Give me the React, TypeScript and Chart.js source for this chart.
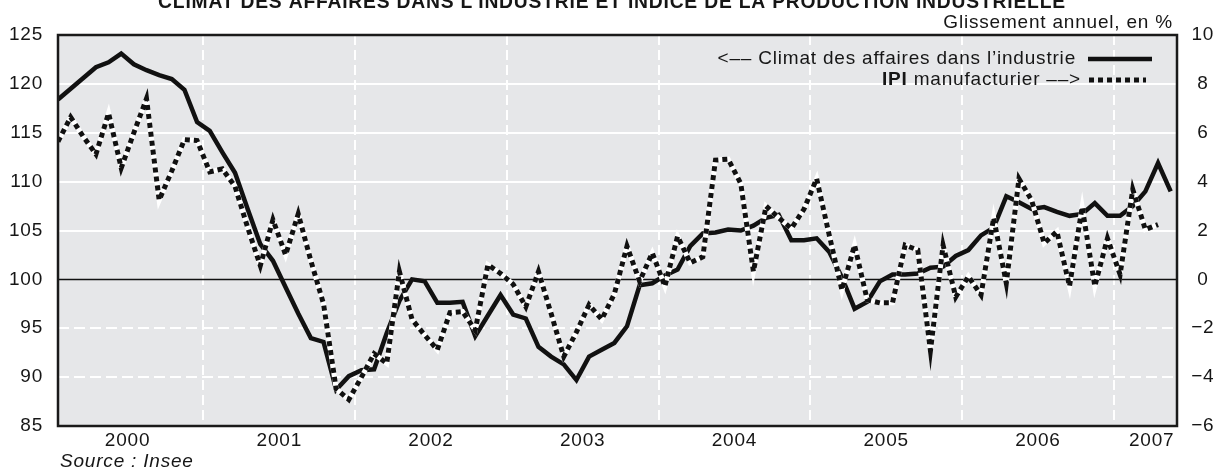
import React, { useEffect, useRef } from 'react';
import { Chart, registerables } from 'chart.js';

Chart.register(...registerables);

// ---- Data (monthly, January 2000 onwards) ----
const yearLabels = ['2000', '2001', '2002', '2003', '2004', '2005', '2006', '2007'];

// Climat des affaires dans l'industrie (left axis, index)
const climatValues = [
  118.4, 119.5, 120.6, 121.7, 122.2, 123.1, 122.0, 121.4, 120.9, 120.5, 119.4, 116.1,
  115.2, 113.0, 110.9, 107.2, 103.6, 101.9, 99.2, 96.5, 94.0, 93.6, 88.7, 90.1,
  90.7, 90.8, 94.5, 97.8, 100.0, 99.8, 97.6, 97.6, 97.7, 94.2, 96.3, 98.4,
  96.4, 96.0, 93.1, 92.1, 91.3, 89.7, 92.1, 92.8, 93.5, 95.2, 99.4, 99.6,
  100.4, 101.0, 103.4, 104.7, 104.8, 105.1, 105.0, 105.5, 106.3, 106.6, 104.0, 104.0,
  104.2, 102.8, 100.2, 97.0, 97.7, 99.8, 100.5, 100.5, 100.6, 101.2, 101.3, 102.4,
  103.0, 104.5, 105.3, 108.5, 107.9, 107.2, 107.4, 106.9, 106.5, 106.7, 107.8, 106.5,
  106.5, 107.5, 109.0, 111.9, 109.0,
];

// IPI manufacturier, glissement annuel en % (right axis)
const ipiValues = [
  5.64, 6.64, 5.84, 5.12, 6.80, 4.56, 6.00, 7.40, 3.24, 4.44, 5.72, 5.68,
  4.40, 4.52, 3.80, 2.12, 0.56, 2.44, 1.00, 2.68, 0.76, -1.00, -4.48, -4.92,
  -4.00, -3.04, -3.44, 0.32, -1.64, -2.28, -2.88, -1.36, -1.32, -2.08, 0.60, 0.24,
  -0.20, -1.12, 0.32, -1.40, -3.16, -2.16, -1.04, -1.64, -0.60, 1.36, -0.08, 1.08,
  -0.28, 1.76, 0.68, 0.92, 4.88, 4.92, 3.92, 0.32, 3.00, 2.52, 2.08, 2.88,
  4.12, 1.80, -0.44, 1.40, -0.84, -0.96, -0.96, 1.40, 1.20, -2.92, 1.40, -0.72,
  0.12, -0.64, 2.52, -0.16, 4.12, 3.24, 1.48, 1.96, -0.28, 2.96, -0.28, 1.68,
  0.20, 3.68, 2.04, 2.24,
];

const titleText = 'CLIMAT DES AFFAIRES DANS L’INDUSTRIE ET INDICE DE LA PRODUCTION INDUSTRIELLE';
const rightAxisTitle = 'Glissement annuel, en %';
const legendClimat = '<–– Climat des affaires dans l’industrie';
const legendIpiBold = 'IPI';
const legendIpiRest = ' manufacturier ––>';
const sourceText = 'Source : Insee';

const FONT = '"Liberation Sans", Arial, Helvetica, sans-serif';
const TEXT = '#161616';
const SIZE = 19;
const SPACING = '0.8px';

const xMax = climatValues.length - 0.5;
const yearBoundaries = yearLabels.slice(1).map((_, k) => (k + 1) * 12 - 0.5);
const yearTickValues = yearLabels.map((_, k) => Math.min(k * 12 + 5.5, xMax - 2));

const decor = {
  id: 'decor',
  beforeDraw(chart: any) {
    const ctx = chart.ctx;
    ctx.letterSpacing = SPACING;
    const { left, right, top, bottom } = chart.chartArea;
    ctx.save();
    ctx.fillStyle = '#e6e7e9';
    ctx.fillRect(left, top, right - left, bottom - top);
    ctx.restore();
  },
  beforeDatasetsDraw(chart: any) {
    const ctx = chart.ctx;
    const { left, right, top, bottom } = chart.chartArea;
    const ys = chart.scales.y;
    const xs = chart.scales.x;
    ctx.save();
    ctx.strokeStyle = '#ffffff';
    ctx.lineWidth = 2;
    ys.ticks.forEach((t: any) => {
      if (t.value <= ys.min || t.value >= ys.max || t.value === 100) return;
      const py = Math.round(ys.getPixelForValue(t.value));
      ctx.setLineDash(t.value > 100 ? [] : [11, 5]);
      ctx.beginPath();
      ctx.moveTo(left, py);
      ctx.lineTo(right, py);
      ctx.stroke();
    });
    ctx.setLineDash([10, 5]);
    yearBoundaries.forEach((v) => {
      const px = Math.round(xs.getPixelForValue(v));
      ctx.beginPath();
      ctx.moveTo(px, top);
      ctx.lineTo(px, bottom);
      ctx.stroke();
    });
    ctx.setLineDash([]);
    ctx.strokeStyle = '#111';
    ctx.lineWidth = 1.5;
    const pz = ys.getPixelForValue(100);
    ctx.beginPath();
    ctx.moveTo(left, pz);
    ctx.lineTo(right, pz);
    ctx.stroke();
    ctx.restore();
  },
  afterDatasetsDraw(chart: any) {
    const ctx = chart.ctx;
    const { left, right, top, bottom } = chart.chartArea;
    ctx.save();
    ctx.strokeStyle = '#1a1a1a';
    ctx.lineWidth = 2.5;
    ctx.strokeRect(left, top, right - left, bottom - top);
    ctx.restore();
  },
  afterDraw(chart: any) {
    const ctx = chart.ctx;
    ctx.save();
    ctx.letterSpacing = SPACING;
    ctx.fillStyle = TEXT;
    ctx.textBaseline = 'alphabetic';

    // title (cut at the top of the picture)
    ctx.font = `bold 19.3px ${FONT}`;
    ctx.textAlign = 'center';
    ctx.fillText(titleText, 612, 8);

    // right axis title
    ctx.font = `${SIZE}px ${FONT}`;
    ctx.textAlign = 'right';
    ctx.fillText(rightAxisTitle, 1173, 28);

    // legend
    ctx.fillText(legendClimat, 1076, 64);
    const restW = ctx.measureText(legendIpiRest).width;
    ctx.fillText(legendIpiRest, 1081, 85);
    ctx.font = `bold ${SIZE}px ${FONT}`;
    ctx.fillText(legendIpiBold, 1081 - restW, 85);

    ctx.strokeStyle = '#111';
    ctx.lineWidth = 4.5;
    ctx.beginPath();
    ctx.moveTo(1088, 59);
    ctx.lineTo(1152, 59);
    ctx.stroke();
    ctx.lineWidth = 5;
    ctx.setLineDash([5, 4]);
    ctx.beginPath();
    ctx.moveTo(1089, 80);
    ctx.lineTo(1146, 80);
    ctx.stroke();
    ctx.setLineDash([]);

    // source
    ctx.font = `italic ${SIZE}px ${FONT}`;
    ctx.textAlign = 'left';
    ctx.fillText(sourceText, 60, 467);
    ctx.restore();
  },
};

export default function App() {
  const ref = useRef<HTMLCanvasElement>(null);
  useEffect(() => {
    const canvas = ref.current!;
    const tickFont = { family: FONT, size: SIZE };
    const ipiPoints = ipiValues.map((v, i) => ({ x: i, y: v }));
    const chart = new Chart(canvas, {
      type: 'line',
      data: {
        datasets: [
          {
            label: 'IPI manufacturier',
            data: ipiPoints,
            yAxisID: 'y1',
            borderColor: '#111',
            borderWidth: 5,
            borderDash: [5, 4],
            borderCapStyle: 'butt',
            pointRadius: 0,
            tension: 0,
            fill: false,
          },
          {
            label: 'IPI fond',
            data: ipiPoints,
            yAxisID: 'y1',
            borderColor: '#ffffff',
            borderWidth: 5,
            pointRadius: 0,
            tension: 0,
            fill: false,
          },
          {
            label: 'Climat des affaires dans l’industrie',
            data: climatValues.map((v, i) => ({ x: i, y: v })),
            yAxisID: 'y',
            borderColor: '#111',
            borderWidth: 4.5,
            pointRadius: 0,
            tension: 0,
            fill: false,
          },
        ],
      },
      options: {
        animation: false,
        responsive: false,
        layout: { padding: { top: 35, left: 0, right: 0, bottom: 0 } },
        plugins: {
          legend: { display: false },
          title: { display: false },
          tooltip: { enabled: false },
        },
        scales: {
          x: {
            type: 'linear',
            min: 0,
            max: xMax,
            grid: { display: false, drawTicks: false },
            border: { display: false },
            afterBuildTicks: (s: any) => {
              s.ticks = yearTickValues.map((v) => ({ value: v }));
            },
            afterFit: (s: any) => {
              s.height = 44;
            },
            ticks: {
              autoSkip: false,
              maxRotation: 0,
              padding: 3,
              color: TEXT,
              font: tickFont,
              callback: (_v: any, i: number) => yearLabels[i],
            },
          },
          y: {
            position: 'left',
            min: 85,
            max: 125,
            grid: { display: false, drawTicks: false },
            border: { display: false },
            afterFit: (s: any) => {
              s.width = 58;
            },
            ticks: { stepSize: 5, padding: 15, color: TEXT, font: tickFont },
          },
          y1: {
            position: 'right',
            min: -6,
            max: 10,
            grid: { display: false, drawTicks: false },
            border: { display: false },
            afterFit: (s: any) => {
              s.width = 44;
            },
            ticks: {
              stepSize: 2,
              padding: 15,
              crossAlign: 'center',
              color: TEXT,
              font: tickFont,
              callback: (v: any) => String(v).replace('-', '−'),
            },
          },
        },
      } as any,
      plugins: [decor],
    });
    return () => chart.destroy();
  }, []);
  return (
    <canvas
      ref={ref}
      width={1221}
      height={470}
      style={{ position: 'absolute', left: 0, top: 0, display: 'block', width: 1221, height: 470 }}
    />
  );
}
